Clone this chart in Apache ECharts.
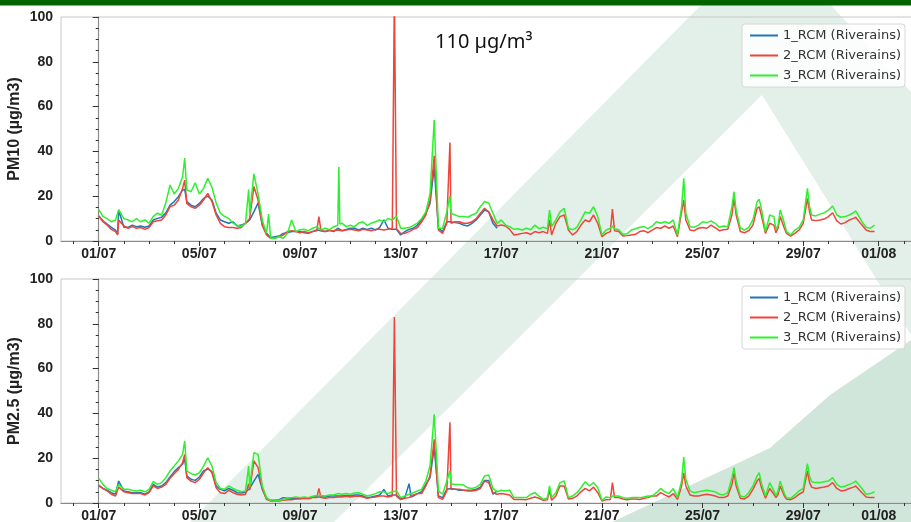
<!DOCTYPE html>
<html>
<head>
<meta charset="utf-8">
<script src="https://cdn.jsdelivr.net/npm/echarts@6/dist/echarts.min.js"></script>
<style>
  html, body { margin: 0; padding: 0; background: #fff; }
  #chart { width: 911px; height: 522px; }
</style>
</head>
<body>
<div id="chart"></div>
<script>
// x = hours since 01/07 00:00
var tickDays = [0, 4, 8, 12, 16, 20, 24, 28, 31];
var tickLabels = ['01/07', '05/07', '09/07', '13/07', '17/07', '21/07', '25/07', '29/07', '01/08'];
var seriesNames = ['1_RCM (Riverains)', '2_RCM (Riverains)', '3_RCM (Riverains)'];

// PM10
var pm10Blue = [[0,11.2],[4,9],[8,7.6],[12,6.1],[16,4.9],[18,3],[19,13.8],[24,6.1],[28,6.1],[32,7.1],[36,6.4],[40,6.7],[44,6.1],[48,6.7],[52,9.4],[56,10.1],[60,10.6],[64,12.6],[68,16],[72,17.6],[76,19.8],[80,22.8],[82,23],[84,17.6],[88,16],[92,15.3],[96,16.8],[100,19],[104,20],[108,18.3],[112,12.4],[116,9.4],[120,8.6],[124,7.9],[128,8.6],[132,6.7],[136,7.1],[140,7.9],[144,9.4],[148,13],[152,17],[156,7.1],[160,3.4],[164,1.6],[168,1.9],[172,2.2],[176,3.4],[180,3.7],[184,4.2],[188,4.2],[192,4.2],[196,3.7],[200,3.4],[204,4.2],[208,4.9],[212,4.6],[216,4.2],[220,4.9],[224,4.2],[228,5.7],[232,4.6],[236,5.2],[240,5.7],[244,5.7],[248,4.9],[252,5.7],[256,5.2],[260,5.7],[264,4.9],[268,6.1],[272,9.4],[276,5.7],[280,5.2],[284,5.2],[288,2.7],[292,4.2],[296,5.2],[300,5.7],[304,7.1],[308,9.4],[312,12.4],[316,16.8],[320,33],[324,5.7],[328,4.2],[332,8.6],[336,8.6],[340,8.2],[344,7.9],[348,7.1],[352,6.7],[356,7.9],[360,9.4],[364,11.6],[368,13.8],[372,13],[376,7.9],[380,5.7]];
var pm10Red = [[0,11.2],[4,8.6],[8,7.1],[12,5.2],[16,4.2],[18,2.7],[19,9.4],[24,6.7],[28,5.7],[32,6.4],[36,5.7],[40,6],[44,5.2],[48,6],[52,8.6],[56,9],[60,9.4],[64,11.6],[68,15.3],[72,16],[76,18.3],[80,23.5],[82,27.2],[84,16.8],[88,15.3],[92,14.6],[96,16],[100,18.3],[104,21.3],[108,17.6],[112,11.6],[116,7.9],[120,6.4],[124,6],[128,6],[132,5.7],[136,6],[140,7.9],[144,10.1],[148,24.3],[152,18.3],[156,7.1],[160,2.7],[164,1.2],[168,1.2],[172,1.9],[176,2.7],[180,4.2],[184,4.6],[188,4.2],[192,3.7],[196,4.2],[200,3.7],[204,4.2],[208,4.6],[210,10.9],[212,4.6],[216,4.2],[220,4.6],[224,4.6],[228,4.9],[232,4.6],[236,4.9],[240,5.2],[244,4.9],[248,4.6],[252,5.2],[256,4.9],[260,4.6],[264,5.2],[268,5.2],[272,4.9],[276,5.2],[280,5.7],[282,110],[283,110],[284,5.5],[288,3.4],[292,3.4],[296,4.2],[300,5.2],[304,6],[308,8.6],[312,11.6],[316,18],[320,38],[324,4.9],[328,3.4],[332,7.9],[335,44],[336,7.9],[340,8.6],[344,8.6],[348,7.9],[352,7.9],[356,8.6],[360,10],[364,12.4],[368,14.6],[372,13],[376,9.4],[380,6.7],[384,7.1],[388,6.7],[392,5.2],[396,2.7],[400,3],[404,3.4],[408,3.7],[412,3],[416,4.2],[420,3.7],[424,4.2],[428,3.4],[430,9.4],[432,2.7],[436,7.9],[440,10.9],[444,11.6],[448,4.9],[452,2.7],[456,4.2],[460,7.1],[464,9.4],[468,8.6],[472,11.6],[476,7.9],[480,1.9],[484,3.4],[488,4.2],[490,14.3],[492,4.6],[496,4.2],[500,2.2],[504,2.4],[508,2.7],[512,3],[516,4.2],[520,4.6],[524,3.7],[528,4.9],[532,6],[536,5.7],[540,6.7],[544,5.7],[548,6.7],[552,1.9],[556,13],[558,18.3],[560,9.4],[564,4.9],[568,4.6],[572,5.7],[576,6],[580,5.7],[584,7.1],[588,6],[592,4.6],[596,5],[600,5.2],[604,11.6],[606,19],[608,11.6],[612,4.2],[616,3.7],[620,4.6],[624,7.1],[628,14.6],[630,15.3],[632,11.6],[636,3.4],[640,7.9],[644,7.1],[646,3.7],[648,5.7],[650,10.9],[654,5.7],[656,3.4],[660,2.2],[664,3.4],[668,4.9],[672,7.9],[676,19],[678,13],[680,9.4],[684,9.1],[688,9.4],[692,9.8],[696,10.9],[700,12.6],[704,9],[708,7.6],[712,8.2],[716,9.4],[720,10.1],[722,10.6],[728,7.1],[732,4.9],[736,4.2],[740,4.2]];
var pm10Green = [[0,14],[4,11],[8,10],[12,8.6],[16,9.4],[19,14],[24,10],[28,9.4],[32,8.6],[36,10],[40,8.6],[44,9.4],[48,8],[52,11],[56,12.4],[60,11.6],[64,17],[68,25],[72,21],[76,23.5],[80,28.7],[82,37],[84,22.8],[88,22],[92,26],[96,21],[100,23.5],[104,28],[108,24],[112,17],[116,12.4],[120,11],[124,10],[128,8],[132,7],[136,6.4],[140,8],[143,23],[144,12.4],[148,30],[152,21],[156,9.4],[160,3.4],[162,12],[164,1.2],[168,1.2],[172,2],[176,1.2],[180,3.4],[184,9.4],[188,4.2],[192,5],[196,5.2],[200,4.6],[204,5.7],[208,6.4],[212,5],[216,5.7],[220,5],[224,6.4],[228,7],[229,33],[230,7.5],[232,8],[236,6.4],[240,7],[244,6.4],[248,8],[252,8.6],[256,7],[260,8],[264,8.6],[268,9.4],[272,8.6],[276,10],[280,9.4],[284,11],[288,5.7],[292,5.7],[296,6],[300,7],[304,8],[308,10],[312,13],[316,21],[320,54],[324,5.7],[328,5.7],[332,13],[335,20],[336,12.4],[340,11.6],[344,10.9],[348,10.9],[352,10.6],[356,11.6],[360,12.4],[364,15.3],[368,17.6],[372,17],[376,12.4],[380,7.9],[384,9.4],[388,7.1],[392,6.4],[396,5.2],[400,5.5],[404,4.9],[408,5.7],[412,5],[416,7.1],[420,5.5],[424,6.1],[428,5.5],[430,13.8],[432,6.4],[436,9.4],[440,13],[444,14.6],[448,5.7],[452,5],[456,6.1],[460,9.4],[464,13],[468,12.4],[472,15.3],[476,10.9],[480,2.7],[484,4.9],[488,5.7],[490,6.7],[492,5.5],[496,5],[500,3],[504,3.2],[508,4.9],[512,5.5],[516,6.1],[520,6.4],[524,5.5],[528,6.7],[532,8.6],[536,7.9],[540,8.6],[544,7.9],[548,9.4],[552,2.7],[556,15.3],[558,28],[560,12.4],[564,6.4],[568,6.1],[572,7.1],[576,8.6],[580,8.2],[584,9],[588,7.9],[592,6.1],[596,6.7],[600,6.4],[604,15.3],[606,22],[608,13.8],[612,5.7],[616,4.9],[620,6.1],[624,9.4],[628,17.6],[630,18.6],[632,14.6],[636,4.2],[640,11.6],[644,10.9],[646,4.9],[648,7.1],[650,13.8],[654,7.9],[656,4.2],[660,2.7],[664,4.9],[668,6.1],[672,9.4],[676,23.5],[678,15.3],[680,11.6],[684,11.2],[688,12],[692,12.6],[696,13.8],[700,15.6],[704,11.6],[708,10.6],[712,10.9],[716,11.6],[720,12.6],[722,13.5],[728,8.6],[732,6.1],[736,5.7],[740,7.1]];

// PM2.5
var pm25Blue = [[0,7.6],[4,6.5],[8,5.7],[12,4.6],[16,3.9],[19,9.8],[24,5.4],[28,5],[32,4.6],[36,4.6],[40,4.6],[44,3.9],[48,5],[52,8.3],[56,7.1],[60,7.6],[64,9.1],[68,11.6],[72,14],[76,15.8],[80,17.3],[82,20],[84,12.1],[88,10.6],[92,10.1],[96,11.6],[100,14.3],[104,15.2],[108,14],[112,7.6],[116,6.1],[120,5.4],[124,6.5],[128,5.7],[132,4.6],[136,4.5],[140,4.8],[144,6.5],[148,9.8],[152,12.8],[156,6.1],[160,2.1],[164,1.2],[168,1.2],[172,1.5],[176,2.4],[180,2.1],[184,2.1],[188,2.1],[192,2.1],[196,2.4],[200,2.1],[204,2.7],[208,2.7],[212,2.7],[216,2.7],[220,3.1],[224,3.1],[228,3.1],[232,3.1],[236,3.3],[240,3.1],[244,3.6],[248,3.6],[252,3.1],[256,2.4],[260,2.7],[264,3.1],[268,3.6],[272,6.1],[276,3.1],[280,3.6],[284,3.6],[288,1.8],[292,2.4],[296,8.6],[298,2.7],[300,3.1],[304,4.2],[308,5],[312,8.3],[316,11.3],[320,24.7],[324,3.1],[328,2.4],[332,6.1],[336,6.5],[340,6.1],[344,5.7],[348,5.7],[352,5.7],[356,5.7],[360,6.1],[364,7.1],[368,10.1],[372,10.1],[376,3.9],[380,5.4]];
var pm25Red = [[0,8],[4,6.5],[8,5.4],[12,3.9],[16,3.1],[19,7.1],[24,5],[28,4.6],[32,4.2],[36,4.2],[40,4.2],[44,3.6],[48,4.6],[52,7.6],[56,6.5],[60,7.1],[64,8.3],[68,11],[72,13.1],[76,15],[80,18],[82,21.7],[84,11.3],[88,9.8],[92,9.1],[96,10.6],[100,13.5],[104,15.8],[108,13.5],[112,6.8],[116,4.6],[120,4.2],[124,5.7],[128,4.6],[132,3.9],[136,3.6],[140,3.9],[143,8.6],[144,5.7],[148,18.8],[152,15.8],[156,6.5],[160,1.6],[164,0.9],[168,0.9],[172,0.9],[176,1.2],[180,1.5],[184,1.5],[188,1.8],[192,1.8],[196,2.1],[200,1.9],[204,2.4],[208,2.4],[210,6.5],[212,2.4],[216,2.1],[220,2.4],[224,2.4],[228,2.7],[232,2.7],[236,3],[240,2.7],[244,3],[248,3.1],[252,2.7],[256,2.1],[260,2.4],[264,2.7],[268,3.1],[272,3.1],[276,2.7],[280,3.1],[282,83],[283,83],[284,3.1],[288,1.5],[292,2.1],[296,2.4],[300,3.6],[304,4.2],[308,4.2],[312,7.6],[316,12.1],[320,28.4],[324,2.4],[328,1.6],[332,5.4],[335,36],[336,6.1],[340,6.1],[344,6.1],[348,5.7],[352,5.4],[356,5.4],[360,5.7],[364,6.5],[368,9.8],[372,9.1],[376,4.6],[380,3.9],[384,4.2],[388,3.9],[392,3.6],[396,1.6],[400,1.6],[404,1.6],[408,1.5],[412,2.1],[416,2.7],[420,2.1],[424,1.2],[428,1.5],[430,5.7],[432,1.2],[436,3.1],[440,7.6],[444,7.6],[448,1.8],[452,2.1],[456,3.1],[460,5],[464,6.5],[468,5.4],[472,7.1],[476,4.6],[480,0.9],[484,1.5],[488,1.6],[490,9.1],[492,2.4],[496,2.4],[500,1.8],[504,1.5],[508,1.8],[512,1.8],[516,1.6],[520,2.1],[524,2.4],[528,3.1],[532,3.1],[536,4.6],[540,3.6],[544,2.7],[548,4.2],[552,1.6],[556,7.6],[558,13.5],[560,7.6],[564,3.6],[568,3.1],[572,3.1],[576,3.6],[580,3.9],[584,3.6],[588,3.1],[592,2.4],[596,2.4],[600,3.1],[604,8.3],[606,13.5],[608,7.6],[612,2.1],[616,1.8],[620,3.1],[624,6.1],[628,9.8],[630,11],[632,7.1],[636,2.1],[640,6.5],[644,3.9],[646,2.4],[648,3.9],[650,7.6],[654,3.1],[656,1.8],[660,1.5],[664,2.4],[668,3.9],[672,5],[676,14.3],[678,9.1],[680,7.1],[684,6.5],[688,6.8],[692,7.1],[696,7.6],[700,9.1],[704,6.5],[708,5.4],[712,5.7],[716,6.5],[720,7.1],[722,7.6],[728,4.6],[732,2.7],[736,2.4],[740,2.4]];
var pm25Green = [[0,11],[4,8.3],[8,6.5],[12,5.7],[16,5],[19,8.3],[24,6.1],[28,6.1],[32,5.7],[36,5.4],[40,5.7],[44,5],[48,6.1],[52,9.5],[56,8.3],[60,9.1],[64,11.3],[68,14.3],[72,16.5],[76,18.8],[80,21.7],[82,27.7],[84,14.3],[88,13.1],[92,12.5],[96,13.5],[100,16.5],[104,20.2],[108,16.5],[112,9.1],[116,6.5],[120,6.1],[124,7.6],[128,6.5],[132,5.7],[136,5],[140,5.4],[143,16.5],[144,7.1],[148,22.5],[152,21.7],[156,7.6],[160,2.4],[164,0.9],[168,0.9],[172,1.2],[176,1.6],[180,2.1],[184,2.4],[188,2.7],[192,2.4],[196,2.7],[200,2.4],[204,3],[208,3.3],[212,3.3],[216,3.1],[220,3.6],[224,3.6],[228,4.2],[232,3.9],[236,4.2],[240,3.9],[244,4.5],[248,4.6],[252,3.9],[256,3.1],[260,3.6],[264,4.2],[268,5],[272,5],[276,4.2],[280,5],[284,5.4],[288,2.4],[292,3.1],[296,3.9],[300,4.6],[304,5.4],[308,6.1],[312,9.8],[316,16.5],[320,39.6],[324,5.4],[328,3.9],[332,9.8],[335,14.3],[336,8.6],[340,8.3],[344,8.3],[348,8],[352,6.8],[356,6.5],[360,7.1],[364,8.3],[368,12.1],[372,12.5],[376,6.5],[380,5],[384,5.7],[388,5.4],[392,5.7],[396,2.4],[400,2.4],[404,2.4],[408,2.4],[412,3.9],[416,4.6],[420,3.1],[424,1.6],[428,2.4],[430,7.6],[432,2.4],[436,4.6],[440,9.1],[444,9.8],[448,2.4],[452,3.1],[456,4.6],[460,6.8],[464,9.5],[468,7.6],[472,9.1],[476,6.8],[480,1.2],[484,2.7],[488,2.4],[490,3.1],[492,3.1],[496,3.1],[500,2.4],[504,2.1],[508,2.4],[512,2.4],[516,2.4],[520,2.7],[524,3.1],[528,3.1],[532,4.6],[536,6.5],[540,5],[544,4.2],[548,6.5],[552,2.4],[556,9.8],[558,20.5],[560,10.6],[564,5.4],[568,4.6],[572,5],[576,5.4],[580,5.7],[584,5.4],[588,5],[592,3.9],[596,3.6],[600,4.6],[604,11.3],[606,15.8],[608,9.8],[612,3.1],[616,2.7],[620,4.6],[624,7.6],[628,12.1],[630,13.5],[632,9.1],[636,3.1],[640,9.1],[644,5.4],[646,3.1],[648,5.4],[650,9.8],[654,4.2],[656,2.4],[660,2.1],[664,3.6],[668,5.4],[672,6.5],[676,17.6],[678,12.1],[680,9.5],[684,9.1],[688,9.1],[692,9.5],[696,9.8],[700,11.3],[704,8.3],[708,7.1],[712,7.6],[716,8.3],[720,9.1],[722,9.8],[728,6.5],[732,3.9],[736,4.2],[740,5]];

var colors = ['#1f77b4', '#f0433a', '#2ef02e'];
// axis range in hours; grid is a bit wider than the page so the right spine falls off it
var xMin = -36, xMax = 776.7;

var labelHours = tickDays.map(function (d) { return d * 24; });
var dayHours = [];
for (var d = -1; d <= 32; d++) dayHours.push(d * 24);

var chartDom = document.getElementById('chart');
var myChart = echarts.init(chartDom, null, { renderer: 'canvas' });

function mainX(grid) {
  return {
    type: 'value', gridIndex: grid, min: xMin, max: xMax, position: 'bottom',
    splitLine: { show: false },
    axisLine: { show: true, onZero: false, lineStyle: { color: '#8a8a8a', width: 1.2 } },
    axisTick: { show: true, length: 5, customValues: labelHours, lineStyle: { color: '#333' } },
    axisLabel: {
      customValues: labelHours, margin: 6,
      fontFamily: 'Liberation Sans', fontWeight: 'bold', fontSize: 14, color: '#222',
      formatter: function (v) { return tickLabels[labelHours.indexOf(Math.round(v))]; }
    }
  };
}
function minorX(grid) {
  return {
    type: 'value', gridIndex: grid, min: xMin, max: xMax, position: 'bottom',
    splitLine: { show: false },
    axisLine: { show: false },
    axisTick: { show: true, length: 3, customValues: dayHours, lineStyle: { color: '#333' } },
    axisLabel: { show: false }
  };
}
function yAx(grid, name) {
  return {
    type: 'value', gridIndex: grid, min: 0, max: 100, interval: 20,
    name: name, nameLocation: 'middle', nameGap: 38, nameMoveOverlap: false,
    nameTextStyle: { fontFamily: 'Liberation Sans', fontWeight: 'bold', fontSize: 16, color: '#222' },
    splitLine: { show: false },
    axisLine: { show: true, lineStyle: { color: '#8a8a8a', width: 1.2 } },
    axisTick: { show: true, length: 6, lineStyle: { color: '#333' } },
    minorTick: { show: true, splitNumber: 4, length: 3, lineStyle: { color: '#333' } },
    axisLabel: { margin: 8, fontFamily: 'Liberation Sans', fontWeight: 'bold', fontSize: 14, color: '#222' }
  };
}
function line(name, data, xi, yi, color) {
  return {
    type: 'line', name: name, data: data, xAxisIndex: xi, yAxisIndex: yi,
    showSymbol: false, symbol: 'none', clip: true,
    lineStyle: { color: color, width: 1.5 }, itemStyle: { color: color }
  };
}
function legendAt(top) {
  return {
    orient: 'vertical', left: 742, top: top, icon: 'rect', itemWidth: 28, itemHeight: 2, itemGap: 7,
    padding: [5, 4, 5, 8], backgroundColor: 'rgba(255,255,255,0.85)',
    borderColor: '#d6d6d6', borderWidth: 1, borderRadius: 3,
    textStyle: { fontFamily: 'DejaVu Sans', fontSize: 13, color: '#333' },
    data: seriesNames
  };
}

var option = {
  backgroundColor: '#ffffff',
  animation: false,
  graphic: [
    // faded logo in the background
    { type: 'polygon', z: -10, silent: true,
      shape: { points: [[190, 522], [706, 0], [826, 0], [911, 92], [911, 335], [762, 95], [334, 522]] },
      style: { fill: '#e3f0e9' } },
    { type: 'polygon', z: -10, silent: true,
      shape: { points: [[612, 522], [770, 448], [830, 395], [911, 340], [911, 522]] },
      style: { fill: '#d1e6da' } },
    { type: 'rect', z: 100, shape: { x: 0, y: 0, width: 911, height: 5.5 }, style: { fill: '#006400' } },
    { type: 'text', z: 100, x: 435, y: 42,
      style: { text: '110 µg/m³', fontFamily: 'Noto Sans', fontSize: 20, fill: '#111', verticalAlign: 'middle' } }
  ],
  grid: [
    { left: 61, top: 17, width: 852, height: 224, outerBoundsMode: 'none', show: true, borderColor: '#c8c8c8', borderWidth: 1, backgroundColor: 'transparent' },
    { left: 61, top: 279, width: 852, height: 224, outerBoundsMode: 'none', show: true, borderColor: '#c8c8c8', borderWidth: 1, backgroundColor: 'transparent' }
  ],
  xAxis: [mainX(0), minorX(0), mainX(1), minorX(1)],
  yAxis: [yAx(0, 'PM10 (µg/m3)'), yAx(1, 'PM2.5 (µg/m3)')],
  legend: [legendAt(24), legendAt(286)],
  series: [
    line(seriesNames[0], pm10Blue, 0, 0, colors[0]),
    line(seriesNames[1], pm10Red, 0, 0, colors[1]),
    line(seriesNames[2], pm10Green, 0, 0, colors[2]),
    line(seriesNames[0], pm25Blue, 2, 1, colors[0]),
    line(seriesNames[1], pm25Red, 2, 1, colors[1]),
    line(seriesNames[2], pm25Green, 2, 1, colors[2])
  ]
};

option && myChart.setOption(option);
</script>
</body>
</html>
